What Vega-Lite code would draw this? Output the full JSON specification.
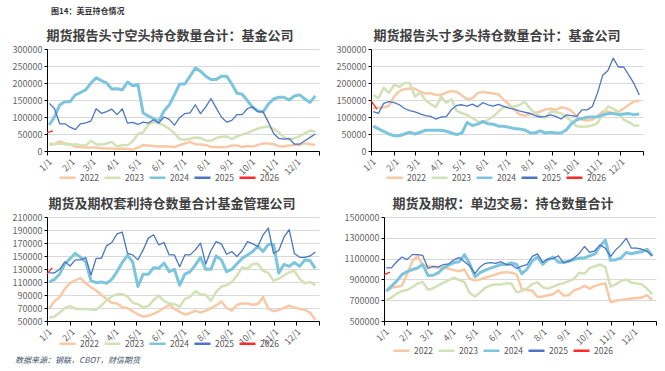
{
"$schema":"https://vega.github.io/schema/vega-lite/v6.json",
"background":"white",
"padding":{"left":12,"top":8,"right":4,"bottom":2},
"title":{"text":"图14：美豆持仓情况","anchor":"start","fontSize":8,"fontWeight":"bold","color":"#333333","font":"Noto Sans CJK SC","offset":14,"dx":4},
"config":{
"font":"Noto Sans CJK SC",
"view":{"stroke":null},
"axis":{"labelFont":"Noto Sans CJK SC","labelFontSize":9,"labelColor":"#666666","domainColor":"#000000","tickColor":"#000000","gridColor":"#D9D9D9","tickSize":3,"labelPadding":2,"title":null},
"axisX":{"grid":false,"labelAngle":-45,"tickSize":4,"labelFlush":false,"labelOverlap":false,"labelBound":false},
"axisY":{"grid":true,"labelFlush":false,"labelOverlap":false},
"title":{"fontSize":13,"fontWeight":"bold","color":"#404040","font":"Noto Sans CJK SC","offset":2,"anchor":"middle","frame":"group"},
"legend":{"orient":"none","direction":"horizontal","title":null,"symbolType":"stroke","symbolSize":256,"symbolStrokeWidth":2.5,"labelFontSize":8.5,"labelColor":"#595959","columnPadding":0,"labelOffset":3,"padding":0}
},
"resolve":{"scale":{"color":"independent"},"legend":{"color":"independent"}},
"datasets":{
"p1":[
{"d":3,"2022":18000,"2023":22000,"2024":77000,"2025":140000},
{"d":10,"2022":20000,"2023":20000,"2024":100000,"2025":125000},
{"d":17,"2022":28000,"2023":22000,"2024":135000,"2025":80000},
{"d":24,"2022":22000,"2023":20000,"2024":145000,"2025":80000},
{"d":31,"2022":20000,"2023":18000,"2024":145000,"2025":70000},
{"d":38,"2022":12000,"2023":20000,"2024":165000,"2025":63000},
{"d":45,"2022":12000,"2023":17000,"2024":172000,"2025":80000},
{"d":52,"2022":10000,"2023":16000,"2024":180000,"2025":83000},
{"d":59,"2022":10000,"2023":30000,"2024":200000,"2025":88000},
{"d":66,"2022":10000,"2023":20000,"2024":215000,"2025":124000},
{"d":73,"2022":8000,"2023":19000,"2024":207000,"2025":111000},
{"d":80,"2022":7000,"2023":22000,"2024":200000,"2025":116000},
{"d":87,"2022":7000,"2023":27000,"2024":182000,"2025":123000},
{"d":94,"2022":6000,"2023":13000,"2024":183000,"2025":107000},
{"d":101,"2022":7000,"2023":18000,"2024":180000,"2025":124000},
{"d":108,"2022":6000,"2023":17000,"2024":203000,"2025":82000},
{"d":115,"2022":4000,"2023":28000,"2024":192000,"2025":84000},
{"d":122,"2022":10000,"2023":50000,"2024":196000,"2025":78000},
{"d":129,"2022":17000,"2023":55000,"2024":112000,"2025":85000},
{"d":136,"2022":16000,"2023":78000,"2024":103000,"2025":82000},
{"d":143,"2022":15000,"2023":85000,"2024":95000,"2025":92000},
{"d":150,"2022":13000,"2023":82000,"2024":87000,"2025":82000},
{"d":157,"2022":14000,"2023":75000,"2024":118000,"2025":100000},
{"d":164,"2022":13000,"2023":65000,"2024":135000,"2025":93000},
{"d":171,"2022":12000,"2023":52000,"2024":165000,"2025":76000},
{"d":178,"2022":17000,"2023":35000,"2024":197000,"2025":98000},
{"d":185,"2022":22000,"2023":33000,"2024":197000,"2025":110000},
{"d":192,"2022":27000,"2023":36000,"2024":220000,"2025":112000},
{"d":199,"2022":20000,"2023":40000,"2024":244000,"2025":136000},
{"d":206,"2022":19000,"2023":38000,"2024":235000,"2025":110000},
{"d":213,"2022":18000,"2023":31000,"2024":220000,"2025":130000},
{"d":220,"2022":12000,"2023":30000,"2024":210000,"2025":154000},
{"d":227,"2022":12000,"2023":38000,"2024":210000,"2025":127000},
{"d":234,"2022":11000,"2023":42000,"2024":220000,"2025":100000},
{"d":241,"2022":12000,"2023":43000,"2024":220000,"2025":85000},
{"d":248,"2022":16000,"2023":35000,"2024":197000,"2025":90000},
{"d":255,"2022":16000,"2023":43000,"2024":170000,"2025":107000},
{"d":262,"2022":12000,"2023":48000,"2024":167000,"2025":107000},
{"d":269,"2022":15000,"2023":53000,"2024":148000,"2025":125000},
{"d":276,"2022":13000,"2023":60000,"2024":128000,"2025":130000},
{"d":283,"2022":18000,"2023":66000,"2024":118000,"2025":115000},
{"d":290,"2022":22000,"2023":70000,"2024":115000,"2025":115000},
{"d":297,"2022":22000,"2023":72000,"2024":138000,"2025":85000},
{"d":304,"2022":20000,"2023":65000,"2024":153000,"2025":52000},
{"d":311,"2022":14000,"2023":55000,"2024":158000,"2025":37000},
{"d":318,"2022":13000,"2023":40000,"2024":158000,"2025":35000},
{"d":325,"2022":16000,"2023":33000,"2024":150000,"2025":37000},
{"d":332,"2022":18000,"2023":38000,"2024":162000,"2025":20000},
{"d":339,"2022":18000,"2023":43000,"2024":165000,"2025":20000},
{"d":346,"2022":23000,"2023":52000,"2024":153000,"2025":30000},
{"d":353,"2022":20000,"2023":60000,"2024":143000,"2025":40000},
{"d":360,"2022":18000,"2023":57000,"2024":162000,"2025":50000},
{"d":0,"2026":54000},
{"d":8,"2026":59000}
],
"p2":[
{"d":3,"2022":125000,"2023":165000,"2024":73000,"2025":116000},
{"d":10,"2022":128000,"2023":155000,"2024":65000,"2025":111000},
{"d":17,"2022":128000,"2023":186000,"2024":58000,"2025":140000},
{"d":24,"2022":133000,"2023":171000,"2024":50000,"2025":145000},
{"d":31,"2022":160000,"2023":194000,"2024":45000,"2025":142000},
{"d":38,"2022":176000,"2023":189000,"2024":45000,"2025":136000},
{"d":45,"2022":182000,"2023":200000,"2024":50000,"2025":125000},
{"d":52,"2022":184000,"2023":200000,"2024":55000,"2025":119000},
{"d":59,"2022":183000,"2023":160000,"2024":50000,"2025":115000},
{"d":66,"2022":175000,"2023":171000,"2024":55000,"2025":109000},
{"d":73,"2022":169000,"2023":150000,"2024":61000,"2025":104000},
{"d":80,"2022":170000,"2023":138000,"2024":61000,"2025":102000},
{"d":87,"2022":165000,"2023":129000,"2024":61000,"2025":94000},
{"d":94,"2022":165000,"2023":160000,"2024":61000,"2025":100000},
{"d":101,"2022":172000,"2023":142000,"2024":58000,"2025":101000},
{"d":108,"2022":176000,"2023":152000,"2024":53000,"2025":122000},
{"d":115,"2022":174000,"2023":118000,"2024":48000,"2025":134000},
{"d":122,"2022":163000,"2023":111000,"2024":53000,"2025":136000},
{"d":129,"2022":152000,"2023":106000,"2024":84000,"2025":132000},
{"d":136,"2022":155000,"2023":97000,"2024":75000,"2025":138000},
{"d":143,"2022":170000,"2023":87000,"2024":79000,"2025":130000},
{"d":150,"2022":174000,"2023":82000,"2024":87000,"2025":142000},
{"d":157,"2022":171000,"2023":92000,"2024":80000,"2025":136000},
{"d":164,"2022":169000,"2023":102000,"2024":79000,"2025":132000},
{"d":171,"2022":167000,"2023":116000,"2024":73000,"2025":137000},
{"d":178,"2022":150000,"2023":129000,"2024":73000,"2025":131000},
{"d":185,"2022":138000,"2023":131000,"2024":70000,"2025":126000},
{"d":192,"2022":122000,"2023":131000,"2024":66000,"2025":123000},
{"d":199,"2022":108000,"2023":135000,"2024":65000,"2025":118000},
{"d":206,"2022":104000,"2023":145000,"2024":62000,"2025":114000},
{"d":213,"2022":107000,"2023":126000,"2024":54000,"2025":111000},
{"d":220,"2022":112000,"2023":111000,"2024":53000,"2025":104000},
{"d":227,"2022":116000,"2023":102000,"2024":59000,"2025":100000},
{"d":234,"2022":122000,"2023":97000,"2024":53000,"2025":102000},
{"d":241,"2022":125000,"2023":116000,"2024":55000,"2025":106000},
{"d":248,"2022":121000,"2023":114000,"2024":53000,"2025":102000},
{"d":255,"2022":128000,"2023":111000,"2024":53000,"2025":94000},
{"d":262,"2022":126000,"2023":100000,"2024":62000,"2025":106000},
{"d":269,"2022":118000,"2023":87000,"2024":80000,"2025":104000},
{"d":276,"2022":102000,"2023":73000,"2024":92000,"2025":102000},
{"d":283,"2022":92000,"2023":71000,"2024":96000,"2025":121000},
{"d":290,"2022":90000,"2023":72000,"2024":99000,"2025":121000},
{"d":297,"2022":92000,"2023":75000,"2024":100000,"2025":131000},
{"d":304,"2022":103000,"2023":82000,"2024":101000,"2025":171000},
{"d":311,"2022":116000,"2023":110000,"2024":106000,"2025":223000},
{"d":318,"2022":116000,"2023":131000,"2024":110000,"2025":237000},
{"d":325,"2022":111000,"2023":124000,"2024":110000,"2025":273000},
{"d":332,"2022":115000,"2023":115000,"2024":107000,"2025":247000},
{"d":339,"2022":125000,"2023":92000,"2024":109000,"2025":247000},
{"d":346,"2022":136000,"2023":85000,"2024":110000,"2025":223000},
{"d":353,"2022":146000,"2023":75000,"2024":107000,"2025":198000},
{"d":360,"2022":147000,"2023":75000,"2024":109000,"2025":165000},
{"d":0,"2026":148000},
{"d":8,"2026":123000}
],
"p3":[
{"d":3,"2022":68600,"2023":55000,"2024":110000,"2025":124000},
{"d":10,"2022":80500,"2023":57000,"2024":114000,"2025":124000},
{"d":17,"2022":86600,"2023":63000,"2024":122000,"2025":129500},
{"d":24,"2022":99500,"2023":70000,"2024":138000,"2025":141000},
{"d":31,"2022":108800,"2023":73000,"2024":146000,"2025":134600},
{"d":38,"2022":112500,"2023":69000,"2024":154000,"2025":144000},
{"d":45,"2022":116000,"2023":68600,"2024":148000,"2025":144000},
{"d":52,"2022":108000,"2023":68600,"2024":141000,"2025":147500},
{"d":59,"2022":102000,"2023":67500,"2024":112000,"2025":120700},
{"d":66,"2022":97000,"2023":67500,"2024":109000,"2025":146500},
{"d":73,"2022":90000,"2023":73700,"2024":110000,"2025":146500},
{"d":80,"2022":84000,"2023":82000,"2024":108000,"2025":165600},
{"d":87,"2022":78000,"2023":88000,"2024":114000,"2025":170800},
{"d":94,"2022":77000,"2023":91000,"2024":126000,"2025":184000},
{"d":101,"2022":71000,"2023":91500,"2024":140000,"2025":186800},
{"d":108,"2022":70000,"2023":88000,"2024":151000,"2025":154000},
{"d":115,"2022":65000,"2023":78000,"2024":141000,"2025":151700},
{"d":122,"2022":60000,"2023":76000,"2024":103000,"2025":144000},
{"d":129,"2022":57000,"2023":71000,"2024":122000,"2025":159400},
{"d":136,"2022":58000,"2023":73000,"2024":122000,"2025":177500},
{"d":143,"2022":61000,"2023":82000,"2024":132000,"2025":182600},
{"d":150,"2022":65000,"2023":89000,"2024":131000,"2025":167000},
{"d":157,"2022":70000,"2023":80500,"2024":139000,"2025":170800},
{"d":164,"2022":75000,"2023":77000,"2024":126000,"2025":151700},
{"d":171,"2022":69000,"2023":76000,"2024":129500,"2025":151700},
{"d":178,"2022":64000,"2023":72000,"2024":105000,"2025":133600},
{"d":185,"2022":60000,"2023":84000,"2024":122000,"2025":151700},
{"d":192,"2022":62000,"2023":87000,"2024":126000,"2025":151700},
{"d":199,"2022":66000,"2023":96000,"2024":136000,"2025":159400},
{"d":206,"2022":63000,"2023":91000,"2024":148000,"2025":169800},
{"d":213,"2022":66000,"2023":90000,"2024":129500,"2025":137700},
{"d":220,"2022":69600,"2023":81000,"2024":129500,"2025":158500},
{"d":227,"2022":74000,"2023":95000,"2024":150000,"2025":172000},
{"d":234,"2022":80000,"2023":103000,"2024":144000,"2025":168700},
{"d":241,"2022":70000,"2023":105000,"2024":126000,"2025":152700},
{"d":248,"2022":66000,"2023":110000,"2024":129500,"2025":156800},
{"d":255,"2022":75000,"2023":120000,"2024":138000,"2025":149000},
{"d":262,"2022":77000,"2023":133000,"2024":146500,"2025":158500},
{"d":269,"2022":77000,"2023":130000,"2024":151700,"2025":172000},
{"d":276,"2022":75000,"2023":138000,"2024":157000,"2025":168700},
{"d":283,"2022":76000,"2023":138000,"2024":165000,"2025":164600},
{"d":290,"2022":87000,"2023":127000,"2024":157000,"2025":182600},
{"d":297,"2022":69000,"2023":124000,"2024":168000,"2025":193000},
{"d":304,"2022":65000,"2023":112000,"2024":168000,"2025":154000},
{"d":311,"2022":67000,"2023":115000,"2024":124000,"2025":158500},
{"d":318,"2022":70000,"2023":120000,"2024":137000,"2025":179000},
{"d":325,"2022":73700,"2023":125000,"2024":134000,"2025":190500},
{"d":332,"2022":71000,"2023":127000,"2024":140000,"2025":154000},
{"d":339,"2022":68600,"2023":115000,"2024":134000,"2025":148000},
{"d":346,"2022":67000,"2023":108000,"2024":144000,"2025":148000},
{"d":353,"2022":63000,"2023":110000,"2024":143000,"2025":150000},
{"d":360,"2022":52000,"2023":105000,"2024":131000,"2025":156000},
{"d":0,"2026":122000},
{"d":7,"2026":132000}
],
"p4":[
{"d":3,"2022":787000,"2023":703000,"2024":787000,"2025":1011000},
{"d":10,"2022":819000,"2023":725000,"2024":835000,"2025":1011000},
{"d":17,"2022":829000,"2023":763000,"2024":883000,"2025":1070000},
{"d":24,"2022":840000,"2023":789000,"2024":946000,"2025":1115000},
{"d":31,"2022":950000,"2023":798000,"2024":975000,"2025":1090000},
{"d":38,"2022":1073000,"2023":825000,"2024":995000,"2025":1138000},
{"d":45,"2022":1127000,"2023":860000,"2024":1010000,"2025":1138000},
{"d":52,"2022":1035000,"2023":874000,"2024":1043000,"2025":1130000},
{"d":59,"2022":1027000,"2023":800000,"2024":938000,"2025":1005000},
{"d":66,"2022":1020000,"2023":815000,"2024":940000,"2025":1025000},
{"d":73,"2022":1011000,"2023":843000,"2024":965000,"2025":1020000},
{"d":80,"2022":1020000,"2023":868000,"2024":1010000,"2025":1043000},
{"d":87,"2022":1002000,"2023":894000,"2024":1040000,"2025":1050000},
{"d":94,"2022":989000,"2023":916000,"2024":1062000,"2025":1090000},
{"d":101,"2022":979000,"2023":894000,"2024":1070000,"2025":1110000},
{"d":108,"2022":995000,"2023":874000,"2024":1138000,"2025":1070000},
{"d":115,"2022":906000,"2023":770000,"2024":1050000,"2025":1030000},
{"d":122,"2022":891000,"2023":735000,"2024":925000,"2025":955000},
{"d":129,"2022":900000,"2023":773000,"2024":965000,"2025":1020000},
{"d":136,"2022":916000,"2023":820000,"2024":990000,"2025":1055000},
{"d":143,"2022":932000,"2023":843000,"2024":1008000,"2025":1062000},
{"d":150,"2022":948000,"2023":852000,"2024":1025000,"2025":1055000},
{"d":157,"2022":964000,"2023":852000,"2024":1043000,"2025":1070000},
{"d":164,"2022":970000,"2023":862000,"2024":1043000,"2025":1043000},
{"d":171,"2022":964000,"2023":860000,"2024":1059000,"2025":1040000},
{"d":178,"2022":948000,"2023":775000,"2024":1043000,"2025":1005000},
{"d":185,"2022":805000,"2023":789000,"2024":955000,"2025":1027000},
{"d":192,"2022":798000,"2023":815000,"2024":1000000,"2025":1043000},
{"d":199,"2022":792000,"2023":855000,"2024":1080000,"2025":1121000},
{"d":206,"2022":730000,"2023":872000,"2024":1115000,"2025":1146000},
{"d":213,"2022":735000,"2023":825000,"2024":1045000,"2025":1065000},
{"d":220,"2022":748000,"2023":811000,"2024":1090000,"2025":1097000},
{"d":227,"2022":757000,"2023":830000,"2024":1115000,"2025":1100000},
{"d":234,"2022":795000,"2023":852000,"2024":1065000,"2025":1127000},
{"d":241,"2022":745000,"2023":862000,"2024":1065000,"2025":1059000},
{"d":248,"2022":748000,"2023":884000,"2024":1075000,"2025":1075000},
{"d":255,"2022":795000,"2023":906000,"2024":1090000,"2025":1105000},
{"d":262,"2022":811000,"2023":963000,"2024":1106000,"2025":1150000},
{"d":269,"2022":837000,"2023":954000,"2024":1106000,"2025":1216000},
{"d":276,"2022":811000,"2023":1011000,"2024":1127000,"2025":1160000},
{"d":283,"2022":837000,"2023":1027000,"2024":1146000,"2025":1175000},
{"d":290,"2022":852000,"2023":1043000,"2024":1220000,"2025":1232000},
{"d":297,"2022":862000,"2023":1017000,"2024":1279000,"2025":1200000},
{"d":304,"2022":680000,"2023":830000,"2024":1084000,"2025":1120000},
{"d":311,"2022":694000,"2023":852000,"2024":1090000,"2025":1184000},
{"d":318,"2022":703000,"2023":884000,"2024":1106000,"2025":1232000},
{"d":325,"2022":710000,"2023":900000,"2024":1159000,"2025":1295000},
{"d":332,"2022":716000,"2023":868000,"2024":1146000,"2025":1200000},
{"d":339,"2022":720000,"2023":862000,"2024":1159000,"2025":1200000},
{"d":346,"2022":725000,"2023":852000,"2024":1165000,"2025":1190000},
{"d":353,"2022":748000,"2023":811000,"2024":1190000,"2025":1170000},
{"d":360,"2022":700000,"2023":757000,"2024":1127000,"2025":1125000},
{"d":0,"2026":944000},
{"d":8,"2026":970000}
]
},
"spacing":15,
"vconcat":[
{"spacing":10,"resolve":{"scale":{"color":"independent"},"legend":{"color":"independent"}},"hconcat":[
{"width":272,"height":102,"data":{"name":"p1"},
"title":{"text":"期货报告头寸空头持仓数量合计：基金公司","dx":-13},
"transform":[{"fold":["2022","2023","2024","2025","2026"],"as":["year","value"]},{"filter":"isValid(datum.value)"}],
"mark":{"type":"line","strokeJoin":"round"},
"encoding":{
"x":{"field":"d","type":"quantitative","scale":{"domain":[0,365],"nice":false,"zero":false},"axis":{"values":[0,31,59,90,120,151,181,212,243,273,304,334,365],"labelExpr":"datum.value >= 365 ? '' : timeFormat(datetime(2001, 0, 1 + datum.value), '%-m/%-d')"}},
"y":{"field":"value","type":"quantitative","scale":{"domain":[0,300000],"nice":false},"axis":{"values":[0,50000,100000,150000,200000,250000,300000],"format":"d"}},
"color":{"field":"year","type":"nominal","scale":{"domain":["2022","2023","2024","2025","2026"],"range":["#F8C9A6","#D3E2B6","#7CC5DD","#4A76C3","#FF2A2A"]},"legend":{"legendX":11,"legendY":119}},
"strokeWidth":{"condition":[{"test":"datum.year == '2024'","value":3},{"test":"datum.year == '2025' || datum.year == '2026'","value":1.3}],"value":2.5}
}},
{"width":272,"height":102,"data":{"name":"p2"},
"title":{"text":"期货报告头寸多头持仓数量合计：基金公司","dx":-10},
"transform":[{"fold":["2022","2023","2024","2025","2026"],"as":["year","value"]},{"filter":"isValid(datum.value)"}],
"mark":{"type":"line","strokeJoin":"round"},
"encoding":{
"x":{"field":"d","type":"quantitative","scale":{"domain":[0,365],"nice":false,"zero":false},"axis":{"values":[0,31,59,90,120,151,181,212,243,273,304,334,365],"labelExpr":"datum.value >= 365 ? '' : timeFormat(datetime(2001, 0, 1 + datum.value), '%-m/%-d')"}},
"y":{"field":"value","type":"quantitative","scale":{"domain":[0,300000],"nice":false},"axis":{"values":[0,50000,100000,150000,200000,250000,300000],"format":"d"}},
"color":{"field":"year","type":"nominal","scale":{"domain":["2022","2023","2024","2025","2026"],"range":["#F8C9A6","#D3E2B6","#7CC5DD","#4A76C3","#FF2A2A"]},"legend":{"legendX":14,"legendY":119}},
"strokeWidth":{"condition":[{"test":"datum.year == '2024'","value":3},{"test":"datum.year == '2025' || datum.year == '2026'","value":1.3}],"value":2.5}
}}
]},
{"spacing":18,"resolve":{"scale":{"color":"independent"},"legend":{"color":"independent"}},
"title":{"text":"数据来源：钢联，CBOT，财信期货","orient":"bottom","anchor":"start","frame":"bounds","fontSize":8,"fontWeight":"normal","fontStyle":"italic","color":"#44546A","offset":1,"dx":3},
"hconcat":[
{"width":272,"height":104,"data":{"name":"p3"},
"title":{"text":"期货及期权套利持仓数量合计基金管理公司","dx":-11},
"transform":[{"fold":["2022","2023","2024","2025","2026"],"as":["year","value"]},{"filter":"isValid(datum.value)"}],
"mark":{"type":"line","strokeJoin":"round"},
"encoding":{
"x":{"field":"d","type":"quantitative","scale":{"domain":[0,365],"nice":false,"zero":false},"axis":{"values":[0,31,59,90,120,151,181,212,243,273,304,334,365],"labelExpr":"datum.value >= 365 ? '' : timeFormat(datetime(2001, 0, 1 + datum.value), '%-m/%-d')"}},
"y":{"field":"value","type":"quantitative","scale":{"domain":[50000,210000],"nice":false,"zero":false},"axis":{"values":[50000,70000,90000,110000,130000,150000,170000,190000,210000],"format":"d"}},
"color":{"field":"year","type":"nominal","scale":{"domain":["2022","2023","2024","2025","2026"],"range":["#F8C9A6","#D3E2B6","#7CC5DD","#4A76C3","#FF2A2A"]},"legend":{"legendX":11,"legendY":117}},
"strokeWidth":{"condition":[{"test":"datum.year == '2024'","value":3},{"test":"datum.year == '2025' || datum.year == '2026'","value":1.3}],"value":2.5}
}},
{"width":272,"height":104,"data":{"name":"p4"},
"title":{"text":"期货及期权：单边交易：持仓数量合计","dx":-17},
"transform":[{"fold":["2022","2023","2024","2025","2026"],"as":["year","value"]},{"filter":"isValid(datum.value)"}],
"mark":{"type":"line","strokeJoin":"round"},
"encoding":{
"x":{"field":"d","type":"quantitative","scale":{"domain":[0,365],"nice":false,"zero":false},"axis":{"values":[0,31,59,90,120,151,181,212,243,273,304,334,365],"labelExpr":"datum.value >= 365 ? '' : timeFormat(datetime(2001, 0, 1 + datum.value), '%-m/%-d')"}},
"y":{"field":"value","type":"quantitative","scale":{"domain":[500000,1500000],"nice":false,"zero":false},"axis":{"values":[500000,700000,900000,1100000,1300000,1500000],"format":"d"}},
"color":{"field":"year","type":"nominal","scale":{"domain":["2022","2023","2024","2025","2026"],"range":["#F8C9A6","#D3E2B6","#7CC5DD","#4A76C3","#FF2A2A"]},"legend":{"legendX":8,"legendY":124}},
"strokeWidth":{"condition":[{"test":"datum.year == '2024'","value":3},{"test":"datum.year == '2025' || datum.year == '2026'","value":1.3}],"value":2.5}
}}
]}
]
}
